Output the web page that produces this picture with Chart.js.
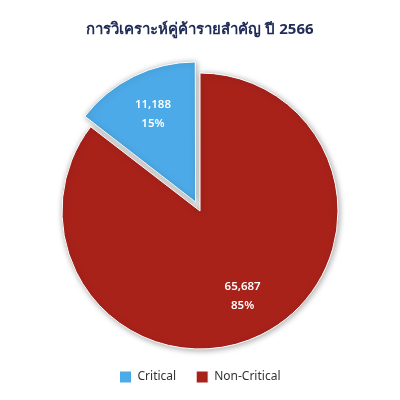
<!doctype html>
<html>
<head>
<title>Key Partner Analysis 2566</title>
<script src="https://cdn.jsdelivr.net/npm/chart.js@4.4.1/dist/chart.umd.min.js"></script>
<style>
body { margin: 0; background: #fff; }
#container { width: 400px; height: 400px; }
</style>
</head>
<body>
	<div id="container">
		<canvas id="canvas"></canvas>
	</div>
	<script>
		const categories = ['Critical', 'Non-Critical'];
		const partnerCounts = [11188, 65687];
		const sliceColors = ['#4DAAE8', '#A8221A'];
		// chart.js v4 moves an arc by offset/4, so 40 -> 10px slice-out
		const slicedOut = [40, 0];

		const total = partnerCounts.reduce((a, b) => a + b, 0);
		// start the first slice so that it ends at 12 o'clock
		const startDeg = -360 * partnerCounts[0] / total;

		const sliceShadow = {
			id: 'sliceShadow',
			beforeDatasetDraw(chart) {
				const ctx = chart.ctx;
				ctx.save();
				ctx.shadowColor = 'rgba(0,0,0,0.35)';
				ctx.shadowBlur = 6;
				ctx.shadowOffsetX = 1;
				ctx.shadowOffsetY = 1;
			},
			afterDatasetDraw(chart) {
				chart.ctx.restore();
			}
		};

		const insideLabels = {
			id: 'insideLabels',
			afterDatasetsDraw(chart) {
				const ctx = chart.ctx;
				const meta = chart.getDatasetMeta(0);
				ctx.save();
				ctx.fillStyle = '#ffffff';
				ctx.textAlign = 'center';
				ctx.textBaseline = 'middle';
				ctx.font = '600 11.5px "Noto Sans", sans-serif';
				meta.data.forEach((arc, i) => {
					const p = arc.getProps(['x', 'y', 'startAngle', 'endAngle', 'outerRadius']);
					const mid = (p.startAngle + p.endAngle) / 2;
					const d = p.outerRadius * 0.7 + slicedOut[i] / 4;
					const x = p.x + Math.cos(mid) * d;
					const y = p.y + Math.sin(mid) * d;
					const pct = Math.round(partnerCounts[i] / total * 100) + '%';
					ctx.fillText(partnerCounts[i].toLocaleString('en-US'), x, y - 11);
					ctx.fillText(pct, x, y + 8);
				});
				ctx.restore();
			}
		};

		window.onload = function() {
			const ctx = document.getElementById('canvas').getContext('2d');
			window.myPie = new Chart(ctx, {
				type: 'pie',
				data: {
					labels: categories,
					datasets: [{
						data: partnerCounts,
						backgroundColor: sliceColors,
						borderColor: '#ffffff',
						borderWidth: 1,
						offset: slicedOut
					}]
				},
				options: {
					responsive: true,
					maintainAspectRatio: false,
					animation: false,
					rotation: startDeg,
					radius: 138,
					layout: {
						padding: { top: 4, bottom: 7 }
					},
					plugins: {
						title: {
							display: true,
							text: 'การวิเคราะห์คู่ค้ารายสำคัญ ปี 2566',
							color: '#1F2B55',
							font: { size: 15, weight: 'bold', family: '"Noto Sans", sans-serif' },
							padding: { top: 17, bottom: 32 }
						},
						legend: {
							position: 'bottom',
							labels: {
								color: '#333333',
								boxWidth: 12,
								boxHeight: 12,
								padding: 20,
								font: { size: 12, family: '"Noto Sans", sans-serif' }
							}
						},
						tooltip: { enabled: false }
					}
				},
				plugins: [sliceShadow, insideLabels]
			});
		};
	</script>
</body>
</html>
